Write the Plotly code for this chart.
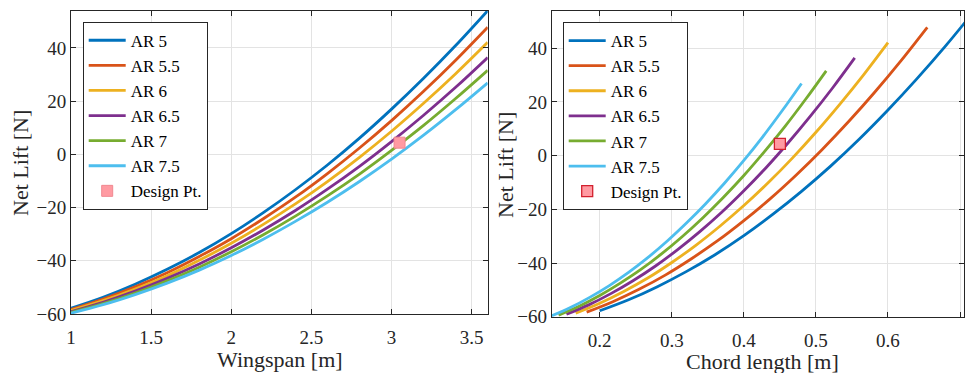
import plotly.graph_objects as go

# ---------------- data ----------------
span = [1.0, 1.2, 1.4, 1.6, 1.8, 2.0, 2.2, 2.4, 2.6, 2.8, 3.0, 3.2, 3.4, 3.6]
aspect_ratios = [5, 5.5, 6, 6.5, 7, 7.5]
series_names = ["AR 5", "AR 5.5", "AR 6", "AR 6.5", "AR 7", "AR 7.5"]

lift_ar5 = [-57.8, -53.7, -48.8, -43.2, -36.9, -29.8, -21.9, -13.3, -4.0, 6.1, 17.0, 28.6, 40.9, 54.0]
lift_ar55 = [-58.3, -54.4, -49.8, -44.5, -38.4, -31.7, -24.2, -16.1, -7.2, 2.4, 12.7, 23.7, 35.4, 47.8]
lift_ar6 = [-58.7, -55.0, -50.6, -45.6, -39.8, -33.4, -26.3, -18.6, -10.2, -1.1, 8.7, 19.2, 30.3, 42.1]
lift_ar65 = [-59.1, -55.6, -51.4, -46.6, -41.2, -35.1, -28.4, -21.1, -13.1, -4.5, 4.8, 14.7, 25.2, 36.4]
lift_ar7 = [-59.4, -56.1, -52.1, -47.5, -42.4, -36.6, -30.2, -23.2, -15.6, -7.4, 1.5, 10.9, 21.0, 31.6]
lift_ar75 = [-59.7, -56.5, -52.7, -48.4, -43.5, -38.0, -31.9, -25.2, -18.0, -10.2, -1.8, 7.2, 16.8, 26.9]
lifts = [lift_ar5, lift_ar55, lift_ar6, lift_ar65, lift_ar7, lift_ar75]

design_span = [3.05]
design_chord = [0.45]
design_lift = [4.4]

y_ticks = [-60, -40, -20, 0, 20, 40]
x1_ticks = [1, 1.5, 2, 2.5, 3, 3.5]
x2_ticks = [0.2, 0.3, 0.4, 0.5, 0.6, 0.7]

# ---------------- style ----------------
colors = ["#0072BD", "#D95319", "#EDB120", "#7E2F8E", "#77AC30", "#4DBEEE"]
FONT = "Times New Roman, Liberation Serif, DejaVu Serif, serif"
TXT = "#262626"
W, H = 965, 373

fig = go.Figure()
for name, ar, ys, c in zip(series_names, aspect_ratios, lifts, colors):
    fig.add_trace(go.Scatter(x=span, y=ys, mode="lines", name=name,
                             line=dict(color=c, width=2.8, shape="spline"),
                             xaxis="x", yaxis="y", legend="legend"))
fig.add_trace(go.Scatter(x=design_span, y=design_lift, mode="markers", name="Design Pt.",
                         marker=dict(symbol="square", size=11, color="#FF9AA2",
                                     line=dict(color="#F08890", width=1)),
                         xaxis="x", yaxis="y", legend="legend"))

for name, ar, ys, c in zip(series_names, aspect_ratios, lifts, colors):
    chord = [b / ar for b in span]
    fig.add_trace(go.Scatter(x=chord, y=ys, mode="lines", name=name,
                             line=dict(color=c, width=2.8, shape="spline"),
                             xaxis="x2", yaxis="y2", legend="legend2"))
fig.add_trace(go.Scatter(x=design_chord, y=design_lift, mode="markers", name="Design Pt.",
                         marker=dict(symbol="square", size=11, color="#FF9AA2",
                                     line=dict(color="#D2202E", width=1.3)),
                         xaxis="x2", yaxis="y2", legend="legend2"))

def px_x(p):
    return p / W

def px_y(p):
    return 1 - p / H

axis_common = dict(showgrid=True, gridcolor="#E3E3E3", gridwidth=1,
                   showline=True, linecolor="#262626", linewidth=1, mirror="ticks",
                   ticks="inside", ticklen=5, tickcolor="#262626", automargin=False,
                   zeroline=False, tickfont=dict(family=FONT, size=19, color=TXT))

legend_common = dict(bgcolor="white", bordercolor="#262626", borderwidth=1,
                     font=dict(family=FONT, size=17, color="black"),
                     xanchor="left", yanchor="top", tracegroupgap=0,
                     itemwidth=37)

fig.update_layout(
    template="none",
    width=W, height=H,
    margin=dict(l=0, r=0, t=0, b=0, pad=0),
    paper_bgcolor="white", plot_bgcolor="white",
    font=dict(family=FONT, color=TXT),
    xaxis=dict(domain=[px_x(71), px_x(487.7)], range=[1, 3.6], tickvals=x1_ticks,
               ticktext=["1", "1.5", "2", "2.5", "3", "3.5"], anchor="y",
               ticklabelstandoff=6, **axis_common),
    yaxis=dict(domain=[px_y(314), px_y(10.7)], range=[-60, 54], tickvals=y_ticks,
               anchor="x", **axis_common),
    xaxis2=dict(domain=[px_x(551.7), px_x(964)], range=[0.13333, 0.7055], tickvals=x2_ticks,
                ticktext=["0.2", "0.3", "0.4", "0.5", "0.6", "0.7"], anchor="y2",
                ticklabelstandoff=6, **axis_common),
    yaxis2=dict(domain=[px_y(316.7), px_y(10.7)], range=[-60, 54], tickvals=y_ticks,
                anchor="x2", **axis_common),
    legend=dict(x=px_x(82.7), y=px_y(21.7), **legend_common),
    legend2=dict(x=px_x(562.7), y=px_y(22), **legend_common),
    showlegend=True,
    annotations=[
        dict(text="Wingspan [m]", x=px_x(280), y=px_y(359), xref="paper", yref="paper",
             showarrow=False, font=dict(family=FONT, size=22, color=TXT),
             xanchor="center", yanchor="middle"),
        dict(text="Chord length [m]", x=px_x(762), y=px_y(361), xref="paper", yref="paper",
             showarrow=False, font=dict(family=FONT, size=22, color=TXT),
             xanchor="center", yanchor="middle"),
        dict(text="Net Lift [N]", x=px_x(20), y=px_y(163), xref="paper", yref="paper",
             showarrow=False, textangle=-90, font=dict(family=FONT, size=22, color=TXT),
             xanchor="center", yanchor="middle"),
        dict(text="Net Lift [N]", x=px_x(505), y=px_y(165), xref="paper", yref="paper",
             showarrow=False, textangle=-90, font=dict(family=FONT, size=22, color=TXT),
             xanchor="center", yanchor="middle"),
    ],
)

fig.write_html("out.html", config={"displayModeBar": False},
               post_script="document.body.style.margin='0';document.body.style.padding='0';")
